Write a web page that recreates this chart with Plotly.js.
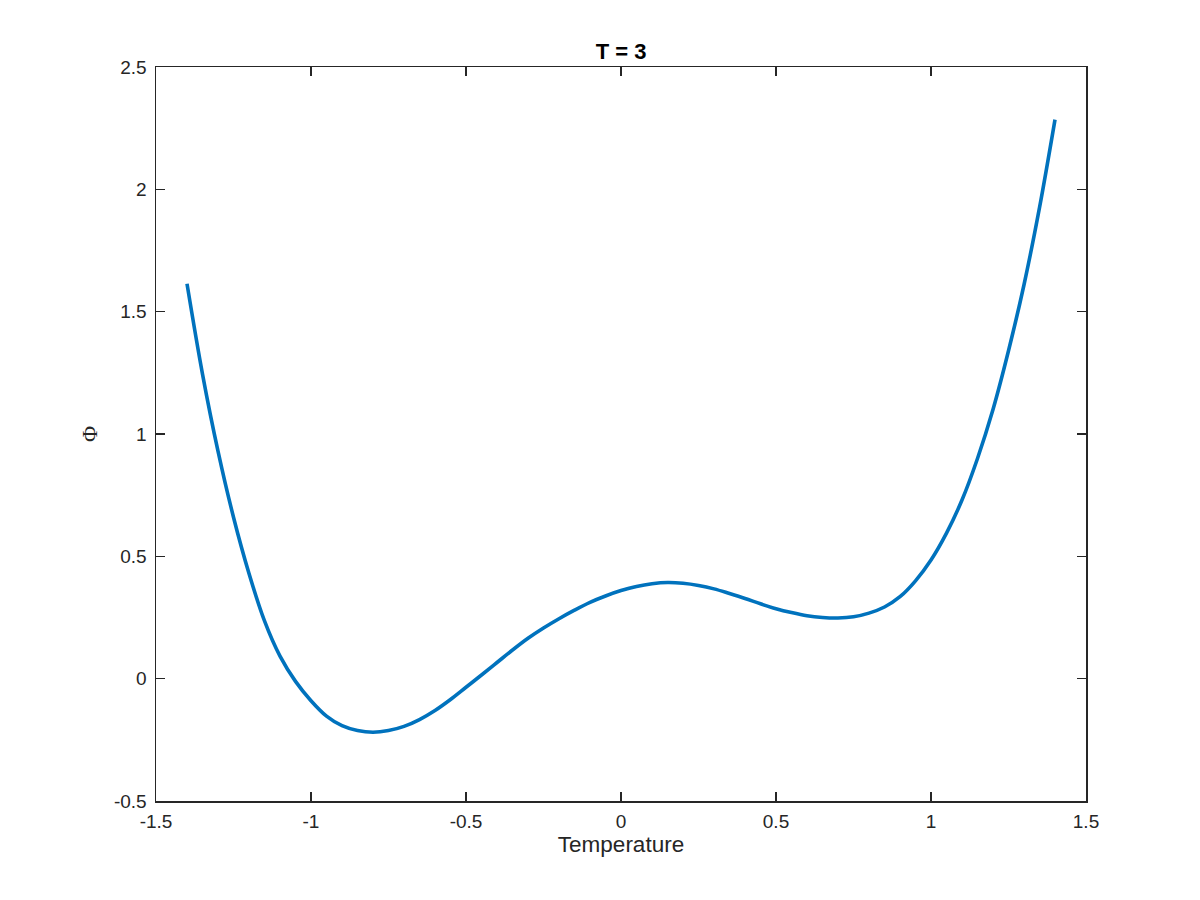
<!DOCTYPE html>
<html>
<head>
<meta charset="utf-8">
<script src="https://cdn.plot.ly/plotly-3.0.1.min.js"></script>
<style>html,body{margin:0;padding:0;background:#fff;}#chart{width:1200px;height:900px;}</style>
</head>
<body>
<div id="chart"></div>
<script>
const temperature = [-1.4,-1.35,-1.3,-1.25,-1.2,-1.15,-1.1,-1.05,-1.0,-0.95,-0.9,-0.85,-0.8,-0.75,-0.7,-0.65,-0.6,-0.55,-0.5,-0.45,-0.4,-0.35,-0.3,-0.25,-0.2,-0.15,-0.1,-0.05,0.0,0.05,0.1,0.15,0.2,0.25,0.3,0.35,0.4,0.45,0.5,0.55,0.6,0.65,0.7,0.75,0.8,0.85,0.9,0.95,1.0,1.05,1.1,1.15,1.2,1.25,1.3,1.35,1.4];
const phi = [1.614,1.245,0.93,0.66,0.43,0.236,0.092,-0.011,-0.09,-0.153,-0.192,-0.212,-0.219,-0.212,-0.195,-0.167,-0.13,-0.085,-0.035,0.015,0.066,0.117,0.165,0.207,0.245,0.28,0.312,0.338,0.36,0.377,0.388,0.393,0.39,0.381,0.367,0.348,0.328,0.306,0.286,0.27,0.257,0.25,0.248,0.253,0.268,0.293,0.335,0.40,0.485,0.595,0.73,0.90,1.10,1.34,1.61,1.925,2.285];
const xTickVals = [-1.5,-1,-0.5,0,0.5,1,1.5];
const xTickText = ['-1.5','-1','-0.5','0','0.5','1','1.5'];
const yTickVals = [-0.5,0,0.5,1,1.5,2,2.5];
const yTickText = ['-0.5','0','0.5','1','1.5','2','2.5'];

const FONT = 'Liberation Sans, Arial, Helvetica, sans-serif';
const axisCommon = {
  showgrid:false, zeroline:false, showline:true, linecolor:'#262626', linewidth:1.5,
  mirror:'ticks', ticks:'inside', ticklen:9, tickwidth:1.5, tickcolor:'#262626',
  tickfont:{family:FONT, size:19, color:'#262626'}
};

const trace = {
  x: temperature, y: phi, type:'scatter', mode:'lines',
  line:{color:'#0072BD', width:3.6, shape:'spline', smoothing:1}
};

const layout = {
  width:1200, height:900,
  margin:{l:156, r:114, t:67, b:99},
  paper_bgcolor:'#fff', plot_bgcolor:'#fff',
  showlegend:false,
  title:{text:'<b>T = 3</b>', x:0.5, xref:'paper', y:1-51/900, yref:'container', yanchor:'middle',
    font:{family:FONT, size:22, color:'#000'}},
  xaxis: Object.assign({}, axisCommon, {
    range:[-1.5,1.5], tickvals:xTickVals, ticktext:xTickText, ticklabelstandoff:3,
    title:{text:'Temperature', standoff:3, font:{family:FONT, size:22.5, color:'#262626'}}
  }),
  yaxis: Object.assign({}, axisCommon, {
    range:[-0.5,2.5], tickvals:yTickVals, ticktext:yTickText, ticklabelstandoff:4,
    title:{text:'Φ', standoff:10, font:{family:'Liberation Serif, DejaVu Serif, serif', size:22, color:'#262626'}}
  })
};

Plotly.newPlot('chart', [trace], layout, {displayModeBar:false, staticPlot:true});
</script>
</body>
</html>
